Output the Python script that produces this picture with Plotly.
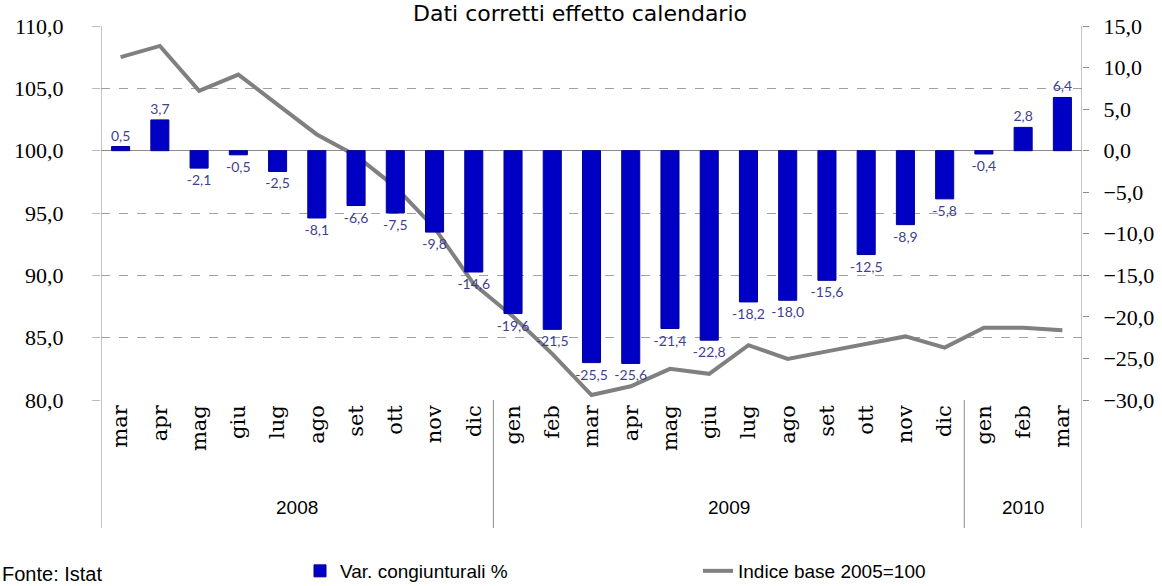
import plotly.graph_objects as go

# ---- data ----
months = ["mar", "apr", "mag", "giu", "lug", "ago", "set", "ott", "nov", "dic",
          "gen", "feb", "mar", "apr", "mag", "giu", "lug", "ago", "set", "ott", "nov", "dic",
          "gen", "feb", "mar"]
years = ["2008", "2008", "2008", "2008", "2008", "2008", "2008", "2008", "2008", "2008",
         "2009", "2009", "2009", "2009", "2009", "2009", "2009", "2009", "2009", "2009", "2009", "2009",
         "2010", "2010", "2010"]
var_cong = [0.5, 3.7, -2.1, -0.5, -2.5, -8.1, -6.6, -7.5, -9.8, -14.6,
            -19.6, -21.5, -25.5, -25.6, -21.4, -22.8, -18.2, -18.0, -15.6, -12.5, -8.9, -5.8,
            -0.4, 2.8, 6.4]
indice = [107.5, 108.4, 104.8, 106.1, 103.7, 101.3, 99.6, 97.1, 93.8, 89.3,
          86.7, 83.7, 80.4, 81.1, 82.5, 82.1, 84.4, 83.3, 83.9, 84.5, 85.1, 84.2,
          85.8, 85.8, 85.6]
left_ticks = [80, 85, 90, 95, 100, 105, 110]
right_ticks = [-30, -25, -20, -15, -10, -5, 0, 5, 10, 15]

cats = [f"{m} {y}" for m, y in zip(months, years)]
bar_text = [f"{v:.1f}".replace(".", ",") for v in var_cong]

W, H = 1162, 586
L, R, T, B = 101, 80, 26, 186
PW, PH = W - L - R, H - T - B
ext = -(528 - 400) / PH  # how far separators extend below the plot

fig = go.Figure()
fig.add_trace(go.Bar(
    x=cats, y=var_cong, yaxis="y2", name="Var. congiunturali %",
    marker=dict(color="#0000C4", line=dict(color="#00009A", width=1)),
    text=bar_text, textposition="outside", cliponaxis=False, constraintext="none",
    textfont=dict(family="Lato", size=14, color="#3F3F8F"),
    legend="legend",
))
fig.add_trace(go.Scatter(
    x=cats, y=indice, yaxis="y", mode="lines", name="Indice base 2005=100",
    line=dict(color="#808080", width=4),
    legend="legend2",
))

# year labels and separators
groups = []
for i, y in enumerate(years):
    if not groups or groups[-1][0] != y:
        groups.append([y, i, i])
    else:
        groups[-1][2] = i
annotations = []
shapes = []
for y, i0, i1 in groups:
    annotations.append(dict(x=(i0 + i1) / 2, xref="x", y=(400 - 507) / PH, yref="paper",
                            text=y, showarrow=False, yanchor="middle",
                            font=dict(family="Liberation Sans", size=19, color="#000")))
for y, i0, i1 in groups[:-1]:
    shapes.append(dict(type="line", xref="x", yref="paper", x0=i1 + 0.5, x1=i1 + 0.5,
                       y0=0, y1=ext, line=dict(color="#8C8C8C", width=1)))
for xv in (-0.5, len(cats) - 0.5):
    shapes.append(dict(type="line", xref="x", yref="paper", x0=xv, x1=xv,
                       y0=1, y1=ext, line=dict(color="#8C8C8C", width=1)))

annotations.append(dict(x=(580 - L) / PW, xref="paper", y=1 + (T - 13) / PH, yref="paper",
                        text="Dati corretti effetto calendario", showarrow=False,
                        yanchor="middle",
                        font=dict(family="DejaVu Sans", size=22, color="#000")))
annotations.append(dict(x=-L / PW, xref="paper", xanchor="left",
                        y=(400 - 561) / PH, yref="paper", yanchor="top",
                        text="Fonte: Istat", showarrow=False,
                        font=dict(family="Liberation Sans", size=20, color="#000")))

legend_font = dict(family="Liberation Sans", size=19, color="#000")
fig.update_layout(
    width=W, height=H, margin=dict(l=L, r=R, t=T, b=B, autoexpand=False),
    paper_bgcolor="white", plot_bgcolor="white",
    separators=", ",
    bargap=0.54,
    showlegend=True,
    legend=dict(x=(300 - L) / PW, xanchor="left", y=(400 - 571) / PH, yanchor="middle",
                font=legend_font, bgcolor="rgba(0,0,0,0)"),
    legend2=dict(x=(698 - L) / PW, xanchor="left", y=(400 - 571) / PH, yanchor="middle",
                 font=legend_font, bgcolor="rgba(0,0,0,0)"),
    xaxis=dict(type="category", tickvals=cats, ticktext=months, tickangle=-90,
               tickfont=dict(family="DejaVu Serif", size=21, color="#000"),
               showgrid=False, showline=False, ticks="", range=[-0.5, len(cats) - 0.5]),
    yaxis=dict(range=[80, 110], tickvals=left_ticks, tickformat=".1f",
               showgrid=True, gridcolor="#A0A0A0", griddash="dash", gridwidth=1,
               showline=False, ticks="outside", ticklen=8, tickcolor="#BBBBBB",
               ticklabelstandoff=24, zeroline=False,
               tickfont=dict(family="Liberation Serif", size=22, color="#000")),
    yaxis2=dict(range=[-30, 15], tickvals=right_ticks, tickformat=".1f",
                overlaying="y", side="right", showgrid=False,
                zeroline=True, zerolinecolor="#8C8C8C", zerolinewidth=1,
                showline=False, ticks="outside", ticklen=6, tickcolor="#8C8C8C",
                ticklabelstandoff=10,
                tickfont=dict(family="Liberation Serif", size=22, color="#000")),
    annotations=annotations, shapes=shapes,
)

fig.write_html("out.html", config={"displayModeBar": False},
               post_script="document.body.style.margin='0';document.body.style.padding='0';")
